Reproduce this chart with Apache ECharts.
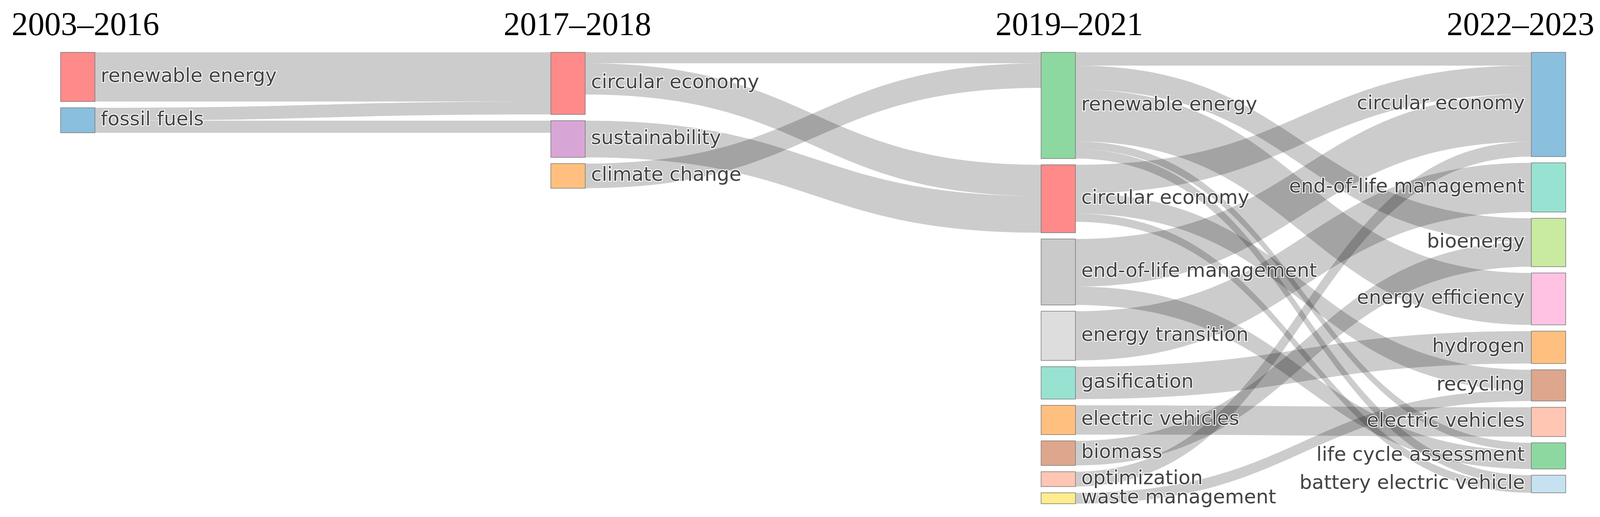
<!DOCTYPE html>
<html>
<head>
<meta charset="utf-8">
<script src="https://cdn.jsdelivr.net/npm/echarts@6/dist/echarts.min.js"></script>
<style>
  html, body { margin: 0; padding: 0; background: #fff; overflow: hidden; }
  #chart { width: 100vw; height: 100vh; }
</style>
</head>
<body>
<div id="chart"></div>
<script>
// ---------- data ----------
const periods = ['2003–2016', '2017–2018', '2019–2021', '2022–2023'];

const terms2003 = ['renewable energy', 'fossil fuels'];
const terms2017 = ['circular economy', 'sustainability', 'climate change'];
const terms2019 = ['renewable energy', 'circular economy', 'end-of-life management', 'energy transition',
  'gasification', 'electric vehicles', 'biomass', 'optimization', 'waste management'];
const terms2022 = ['circular economy', 'end-of-life management', 'bioenergy', 'energy efficiency',
  'hydrogen', 'recycling', 'electric vehicles', 'life cycle assessment', 'battery electric vehicle'];

// flows: [source term, target term, value]
const flows2003to2017 = [
  ['renewable energy', 'circular economy', 126],
  ['fossil fuels', 'circular economy', 33],
  ['fossil fuels', 'sustainability', 31]
];
const flows2017to2019 = [
  ['circular economy', 'renewable energy', 28],
  ['circular economy', 'circular economy', 80],
  ['sustainability', 'circular economy', 94],
  ['climate change', 'renewable energy', 63]
];
const flows2019to2022 = [
  ['renewable energy', 'circular economy', 34],
  ['renewable energy', 'bioenergy', 61],
  ['renewable energy', 'energy efficiency', 133],
  ['renewable energy', 'life cycle assessment', 20],
  ['renewable energy', 'battery electric vehicle', 24],
  ['circular economy', 'circular economy', 73],
  ['circular economy', 'recycling', 52],
  ['circular economy', 'battery electric vehicle', 21],
  ['end-of-life management', 'circular economy', 122],
  ['end-of-life management', 'life cycle assessment', 47],
  ['energy transition', 'end-of-life management', 126],
  ['gasification', 'hydrogen', 83],
  ['electric vehicles', 'electric vehicles', 75],
  ['biomass', 'bioenergy', 63],
  ['optimization', 'circular economy', 38],
  ['waste management', 'recycling', 28]
];

// ---------- styles ----------
const nodeColors = [
  { 'renewable energy': '#ff8a8a', 'fossil fuels': '#8abfde' },
  { 'circular economy': '#ff8a8a', 'sustainability': '#d8a6d6', 'climate change': '#ffc07f' },
  { 'renewable energy': '#8dd8a0', 'circular economy': '#ff8a8a', 'end-of-life management': '#cacaca',
    'energy transition': '#dddddd', 'gasification': '#98e2d2', 'electric vehicles': '#ffc07f',
    'biomass': '#dea68c', 'optimization': '#ffc6b4', 'waste management': '#ffec8c' },
  { 'circular economy': '#8abfde', 'end-of-life management': '#98e2d2', 'bioenergy': '#c9eba0',
    'energy efficiency': '#ffc2e2', 'hydrogen': '#ffc07f', 'recycling': '#dea68c',
    'electric vehicles': '#ffc6b4', 'life cycle assessment': '#8dd8a0', 'battery electric vehicle': '#c6e2f0' }
];

const columns = [terms2003, terms2017, terms2019, terms2022];
const key = (col, term) => periods[col] + '|' + term;

const nodes = [];
columns.forEach((terms, col) => {
  terms.forEach(term => {
    const n = {
      name: key(col, term),
      depth: col,
      itemStyle: { color: nodeColors[col][term] }
    };
    if (col === 3) n.label = { position: 'left', distance: 16 };
    nodes.push(n);
  });
});

const links = [];
[flows2003to2017, flows2017to2019, flows2019to2022].forEach((flows, col) => {
  flows.forEach(([s, t, v]) => links.push({ source: key(col, s), target: key(col + 1, t), value: v }));
});

const chart = echarts.init(document.getElementById('chart'), null, { renderer: 'canvas' });

const W = 4251, H = 1324;
const pct = (v, total) => (v / total * 100).toFixed(3) + '%';
const titleFont = '84px "Liberation Serif", "Times New Roman", serif';
chart.setOption({
  backgroundColor: '#ffffff',
  animation: false,
  graphic: [
    { type: 'text', left: pct(31, W), top: pct(26, H), style: { text: periods[0], font: titleFont, fill: '#000' } },
    { type: 'text', left: pct(1338, W), top: pct(26, H), style: { text: periods[1], font: titleFont, fill: '#000' } },
    { type: 'text', left: pct(2645, W), top: pct(26, H), style: { text: periods[2], font: titleFont, fill: '#000' } },
    { type: 'text', right: pct(15, W), top: pct(26, H), style: { text: periods[3], font: titleFont, fill: '#000' } }
  ],
  series: [{
    type: 'sankey',
    left: pct(161, W),
    right: pct(91, W),
    top: pct(134, H),
    height: pct(1156, H),
    nodeWidth: 88,
    nodeGap: 16,
    layoutIterations: 0,
    draggable: false,
    emphasis: { disabled: true },
    data: nodes,
    links: links,
    itemStyle: { borderColor: '#7a7a7a', borderWidth: 1.5 },
    lineStyle: { color: '#000', opacity: 0.2, curveness: 0.5 },
    label: {
      show: true,
      position: 'right',
      distance: 14,
      fontFamily: '"DejaVu Sans", Verdana, sans-serif',
      fontSize: 50,
      color: '#444',
      textBorderColor: '#fff',
      textBorderWidth: 4,
      formatter: p => p.name.split('|')[1]
    }
  }]
});
</script>
</body>
</html>
